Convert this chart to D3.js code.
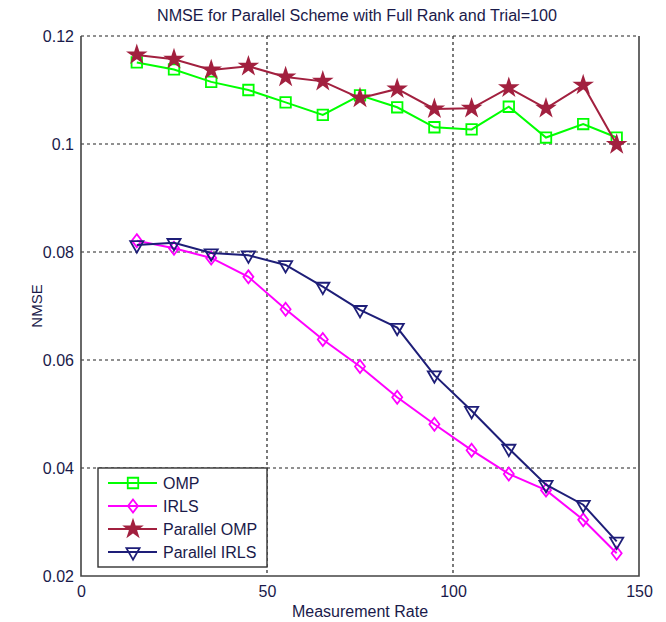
<!DOCTYPE html>
<html lang="en">
<head>
<meta charset="utf-8">
<title>NMSE</title>
<script src="https://d3js.org/d3.v7.min.js"></script>
<style>
  body { margin: 0; background: #fff; }
  text { font-family: "Liberation Sans", Arial, sans-serif; fill: #1a1a4a; }
</style>
</head>
<body>
<div id="chart"></div>
<script type="text/javascript">
	// data
	var rates = [15, 25, 35, 45, 55, 65, 75, 85, 95, 105, 115, 125, 135, 144];
	var omp = [0.1151, 0.1138, 0.1115, 0.1100, 0.1077, 0.1054, 0.1090, 0.1068, 0.1031, 0.1027, 0.1069, 0.1012, 0.1037, 0.1012];
	var irls = [0.0821, 0.0807, 0.0789, 0.0754, 0.0694, 0.0638, 0.0588, 0.0531, 0.0481, 0.0433, 0.0389, 0.0359, 0.0304, 0.0242];
	var par_omp = [0.1165, 0.1157, 0.1137, 0.1144, 0.1124, 0.1116, 0.1085, 0.1102, 0.1065, 0.1066, 0.1104, 0.1066, 0.1109, 0.0999];
	var par_irls = [0.0813, 0.0817, 0.0798, 0.0794, 0.0776, 0.0736, 0.0693, 0.0660, 0.0572, 0.0506, 0.0436, 0.0369, 0.0332, 0.0264];
	var series_names = ['OMP', 'IRLS', 'Parallel OMP', 'Parallel IRLS'];
	var x_ticks = [0, 50, 100, 150];
	var y_ticks = [0.02, 0.04, 0.06, 0.08, 0.1, 0.12];

	var margin = {top: 36, right: 27, bottom: 46, left: 81},
		width = 666 - margin.left - margin.right,
		height = 622 - margin.top - margin.bottom;

	var svg = d3.select("#chart")
		.append("svg")
		.attr("width", 666)
		.attr("height", 622);
	var g = svg.append("g")
		.attr("transform", "translate(" + margin.left + "," + margin.top + ")");

	var x = d3.scaleLinear().domain([0, 150]).range([0, width]);
	var y = d3.scaleLinear().domain([0.02, 0.12]).range([height, 0]);

	// custom diamond, a bit taller than wide
	var diamond = {
		draw: function(ctx, size) {
			var w = 5, h = 6.5;
			ctx.moveTo(0, -h); ctx.lineTo(w, 0); ctx.lineTo(0, h); ctx.lineTo(-w, 0); ctx.closePath();
		}
	};

	var styles = [
		{data: omp, color: '#00ff00', symbol: d3.symbolSquare, size: 110, fill: 'none', rot: 0},
		{data: irls, color: '#ff00ff', symbol: diamond, size: 1, fill: 'none', rot: 0},
		{data: par_omp, color: '#a2203f', symbol: d3.symbolStar, size: 80, fill: '#a2203f', rot: 0},
		{data: par_irls, color: '#1e1e78', symbol: d3.symbolTriangle, size: 75, fill: 'none', rot: 180}
	];

	// grid
	var grid = g.append("g").attr("stroke", "#222").attr("stroke-width", 1.2).attr("stroke-dasharray", "3,3");
	grid.selectAll(".gx").data(x_ticks.slice(1, 3)).enter().append("line")
		.attr("x1", function(d) { return x(d); }).attr("x2", function(d) { return x(d); })
		.attr("y1", 0).attr("y2", height);
	grid.selectAll(".gy").data(y_ticks.slice(1)).enter().append("line")
		.attr("x1", 0).attr("x2", width)
		.attr("y1", function(d) { return y(d); }).attr("y2", function(d) { return y(d); });

	// axes (box with the top left to the dashed grid line)
	g.append("path")
		.attr("d", "M0,0V" + height + "H" + width + "V0")
		.attr("fill", "none").attr("stroke", "#444").attr("stroke-width", 1.6);

	var xAxis = d3.axisBottom(x).tickValues(x_ticks).tickSize(0).tickPadding(10).tickFormat(d3.format("d"));
	var gx = g.append("g").attr("transform", "translate(0," + height + ")").call(xAxis);
	gx.select(".domain").remove();
	gx.selectAll("text").style("font-size", "16px").style("font-family", null);

	var yAxis = d3.axisLeft(y).tickValues(y_ticks).tickSize(0).tickPadding(7).tickFormat(function(d) { return String(+d.toFixed(2)); });
	var gy = g.append("g").call(yAxis);
	gy.select(".domain").remove();
	gy.selectAll("text").style("font-size", "16px").style("font-family", null);

	// lines and markers
	var line = d3.line()
		.x(function(d, i) { return x(rates[i]); })
		.y(function(d) { return y(d); });

	styles.forEach(function(s) {
		g.append("path")
			.datum(s.data)
			.attr("fill", "none")
			.attr("stroke", s.color)
			.attr("stroke-width", 2)
			.attr("d", line);
		g.selectAll(null).data(s.data).enter().append("path")
			.attr("d", d3.symbol().type(s.symbol).size(s.size))
			.attr("transform", function(d, i) { return "translate(" + x(rates[i]) + "," + y(d) + ") rotate(" + s.rot + ")"; })
			.attr("fill", s.fill)
			.attr("stroke", s.color)
			.attr("stroke-width", 1.8);
	});

	// title and labels
	svg.append("text")
		.attr("x", 357).attr("y", 21)
		.attr("text-anchor", "middle")
		.style("font-size", "16px")
		.attr("textLength", 400).attr("lengthAdjust", "spacingAndGlyphs")
		.text("NMSE for Parallel Scheme with Full Rank and Trial=100");
	svg.append("text")
		.attr("x", margin.left + width / 2).attr("y", 617)
		.attr("text-anchor", "middle")
		.style("font-size", "16px")
		.text("Measurement Rate");
	svg.append("text")
		.attr("transform", "translate(42," + (margin.top + height / 2) + ") rotate(-90)")
		.attr("text-anchor", "middle")
		.style("font-size", "15px")
		.text("NMSE");

	// legend
	var lg = svg.append("g").attr("transform", "translate(98,468)");
	lg.append("rect")
		.attr("width", 169).attr("height", 99)
		.attr("fill", "#fff").attr("stroke", "#333").attr("stroke-width", 1.4);
	styles.forEach(function(s, i) {
		var yy = 15 + i * 23;
		lg.append("line")
			.attr("x1", 10).attr("x2", 59).attr("y1", yy).attr("y2", yy)
			.attr("stroke", s.color).attr("stroke-width", 2);
		lg.append("path")
			.attr("d", d3.symbol().type(s.symbol).size(s.size))
			.attr("transform", "translate(35," + yy + ") rotate(" + s.rot + ")")
			.attr("fill", s.fill).attr("stroke", s.color).attr("stroke-width", 1.8);
		lg.append("text")
			.attr("x", 65).attr("y", yy + 6)
			.style("font-size", "16px")
			.text(series_names[i]);
	});
</script>
</body>
</html>
